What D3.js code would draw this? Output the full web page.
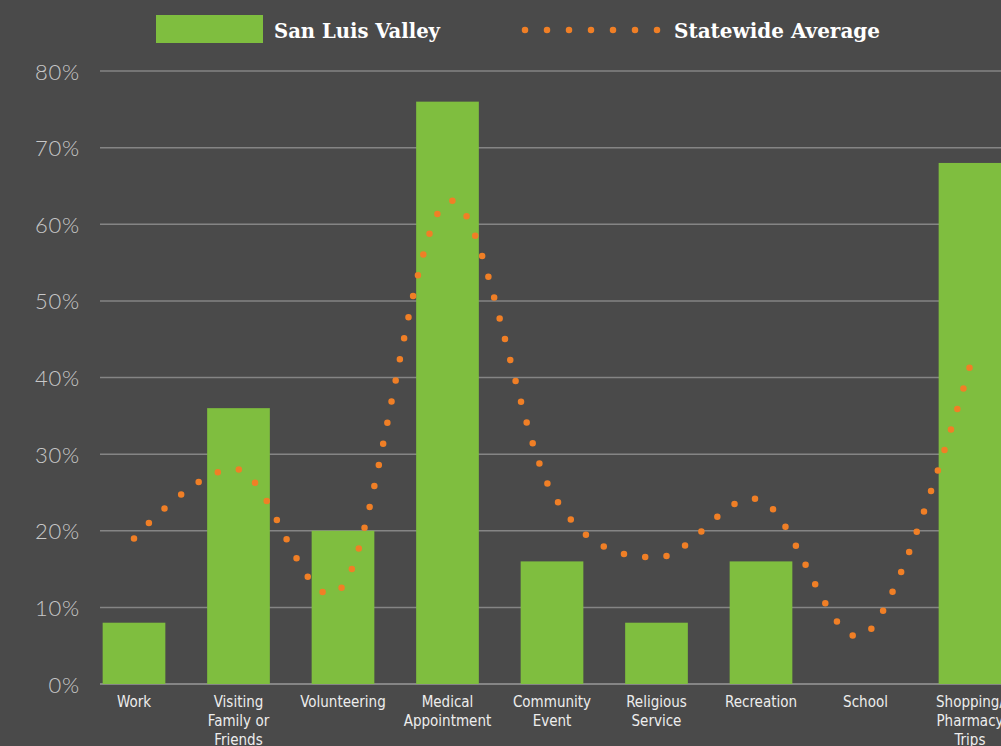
<!DOCTYPE html>
<html>
<head>
<meta charset="utf-8">
<script src="https://cdn.jsdelivr.net/npm/d3@7"></script>
<style>
  html, body { margin: 0; padding: 0; background: #4a4a4a; }
  svg { display: block; }
</style>
</head>
<body>
<svg id="chart"></svg>
<script>
const categories = [
  ['Work'],
  ['Visiting', 'Family or', 'Friends'],
  ['Volunteering'],
  ['Medical', 'Appointment'],
  ['Community', 'Event'],
  ['Religious', 'Service'],
  ['Recreation'],
  ['School'],
  ['Shopping/', 'Pharmacy', 'Trips']
]
const sanLuisValley = [8, 36, 20, 76, 16, 8, 16, 0, 68]
const statewideAverage = [19, 28, 12.8, 63, 25, 16.5, 24, 6.5, 41.5]
const yTicks = [0, 10, 20, 30, 40, 50, 60, 70, 80]
const seriesNames = ['San Luis Valley', 'Statewide Average']

const width = 1001
const height = 746
const margin = { top: 71, bottom: 62, left: 100 }

const svg = d3.select('#chart')
  .attr('width', width)
  .attr('height', height)

const keys = categories.map(c => c.join(' '))

// plot is cropped on the right, so the band range runs past the edge
const x = d3.scaleBand()
  .domain(keys)
  .range([81.75, 1022.25])
  .paddingInner(0.4)
  .paddingOuter(0.2)

const y = d3.scaleLinear()
  .domain([0, 80])
  .range([height - margin.bottom, margin.top])

// gridlines + y labels
svg.append('g')
  .selectAll('line')
  .data(yTicks)
  .join('line')
  .attr('x1', margin.left)
  .attr('x2', width)
  .attr('y1', d => y(d))
  .attr('y2', d => y(d))
  .attr('stroke', d => d === 0 ? '#9a9a9a' : '#858585')
  .attr('stroke-width', 1.5)

svg.append('g')
  .selectAll('text')
  .data(yTicks)
  .join('text')
  .attr('x', 80)
  .attr('y', d => y(d))
  .attr('text-anchor', 'end')
  .attr('dominant-baseline', 'central')
  .attr('fill', '#c8c8c8')
  .style('font-family', 'Lato, sans-serif')
  .style('font-weight', 300)
  .style('font-size', '22px')
  .style('letter-spacing', '0.8px')
  .text(d => d + '%')

// bars
svg.append('g')
  .selectAll('rect')
  .data(sanLuisValley)
  .join('rect')
  .attr('x', (d, i) => x(keys[i]))
  .attr('y', d => y(d))
  .attr('width', x.bandwidth())
  .attr('height', d => y(0) - y(d))
  .attr('fill', '#7fbe3f')

// statewide average: smoothed line drawn as round dots
const line = d3.line()
  .x((d, i) => x(keys[i]) + x.bandwidth() / 2)
  .y(d => y(d))
  .curve(d3.curveCardinal.tension(0))

svg.append('path')
  .datum(statewideAverage)
  .attr('d', line)
  .attr('fill', 'none')
  .attr('stroke', '#f07f26')
  .attr('stroke-width', 6.5)
  .attr('stroke-linecap', 'round')
  .attr('stroke-dasharray', '0 21.5')

// x labels
const xLabels = svg.append('g')
  .selectAll('text')
  .data(categories)
  .join('text')
  .attr('x', (d, i) => x(keys[i]) + x.bandwidth() / 2)
  .attr('y', 707)
  .attr('text-anchor', 'middle')
  .attr('fill', '#ededed')
  .style('font-family', '"DejaVu Sans Condensed", "DejaVu Sans", sans-serif')
  .style('font-size', '15px')

xLabels.selectAll('tspan')
  .data(d => d)
  .join('tspan')
  .attr('x', function () { return this.parentNode.getAttribute('x') })
  .attr('dy', (d, i) => i === 0 ? 0 : 19)
  .text(d => d)

// legend
const legend = svg.append('g')
  .style('font-family', '"DejaVu Serif Condensed", "DejaVu Serif", serif')
  .style('font-size', '21px')
  .style('font-weight', 'bold')
  .attr('fill', '#ffffff')

legend.append('rect')
  .attr('x', 156)
  .attr('y', 15)
  .attr('width', 107)
  .attr('height', 28)
  .attr('fill', '#7fbe3f')

legend.append('text')
  .attr('x', 274)
  .attr('y', 38)
  .attr('textLength', 166)
  .attr('lengthAdjust', 'spacingAndGlyphs')
  .text(seriesNames[0])

legend.append('line')
  .attr('x1', 525)
  .attr('x2', 658)
  .attr('y1', 30)
  .attr('y2', 30)
  .attr('stroke', '#f07f26')
  .attr('stroke-width', 6.5)
  .attr('stroke-linecap', 'round')
  .attr('stroke-dasharray', '0 22')

legend.append('text')
  .attr('x', 674)
  .attr('y', 38)
  .attr('textLength', 206)
  .attr('lengthAdjust', 'spacingAndGlyphs')
  .text(seriesNames[1])
</script>
</body>
</html>
